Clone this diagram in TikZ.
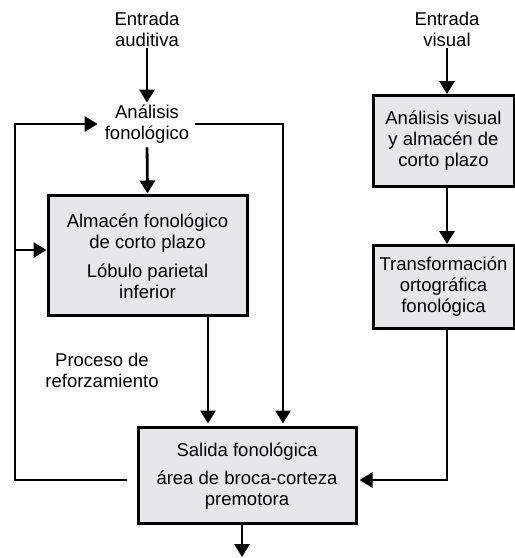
\documentclass[tikz,border=0pt]{standalone}
\usepackage{fontspec}
\setmainfont{Liberation Sans}
\usetikzlibrary{arrows.meta}
\definecolor{boxgray}{HTML}{E6E7E8}
\begin{document}
\begin{tikzpicture}[x=1pt,y=-1pt,
  lbl/.style={align=center,font=\fontsize{18.5}{21}\selectfont,inner sep=0pt},
  gbox/.style={lbl,draw=black,fill=boxgray,line width=3pt},
  arr/.style={line width=2.8pt,-{Triangle[length=13pt,width=15pt]}},
  ln/.style={line width=2.8pt}]
\useasboundingbox (0,0) rectangle (515,558);
% nodes
\node[lbl] (ea) at (147,29) {Entrada\\auditiva};
\node[lbl] (af) at (147,124) {Análisis\\fonológico};
\node[gbox,minimum width=199pt,minimum height=120pt] (alm) at (147.5,255)
  {\rule{0pt}{8pt}\\[-13pt]Almacén fonológico\\de corto plazo\\[8pt]Lóbulo parietal\\inferior};
\node[gbox,minimum width=218pt,minimum height=96pt] (sal) at (247,475)
  {\rule{0pt}{8pt}\\[-13pt]Salida fonológica\\[7pt]área de broca-corteza\\premotora};
\node[lbl] (ev) at (447,29) {Entrada\\visual};
\node[gbox,minimum width=141pt,minimum height=91pt] (av) at (443.5,141)
  {Análisis visual\\y almacén de\\corto plazo};
\node[gbox,minimum width=141pt,minimum height=83pt] (tr) at (443.5,287)
  {Transformación\\ortográfica\\fonológica};
\node[lbl] (pr) at (102,370) {Proceso de\\reforzamiento};
% helper coordinates
\coordinate (ls) at (127,480);
\coordinate (c1) at (15,480);
\coordinate (c2) at (15,124);
\coordinate (c3) at (15,250);
\coordinate (r1) at (283,124);
\coordinate (s1) at (208,0);
\coordinate (vx) at (447,0);
\coordinate (out) at (242,557);
% connectors
\draw[arr,shorten <=2pt,shorten >=2pt] (ea.south) -- (af.north);
\draw[arr,shorten <=4pt] (af.south) -- (alm.north);
\draw[arr,shorten >=7pt] (ls) -- (c1) -- (c2) -- (af.west);
\draw[arr] (c3) -- (alm.west |- c3);
\draw[arr,shorten >=2pt] ([xshift=6pt]af.east) -- (r1) -- (r1 |- sal.north);
\draw[arr,shorten >=2pt] (alm.south -| s1) -- (s1 |- sal.north);
\draw[arr,shorten <=2pt] (ev.south) -- (ev.south |- av.north);
\draw[arr] (av.south -| vx) -- (tr.north -| vx);
\draw[arr,shorten >=2pt] (tr.south -| vx) |- (sal.east |- ls);
\draw[arr] (sal.south -| out) -- (out);
\end{tikzpicture}
\end{document}
